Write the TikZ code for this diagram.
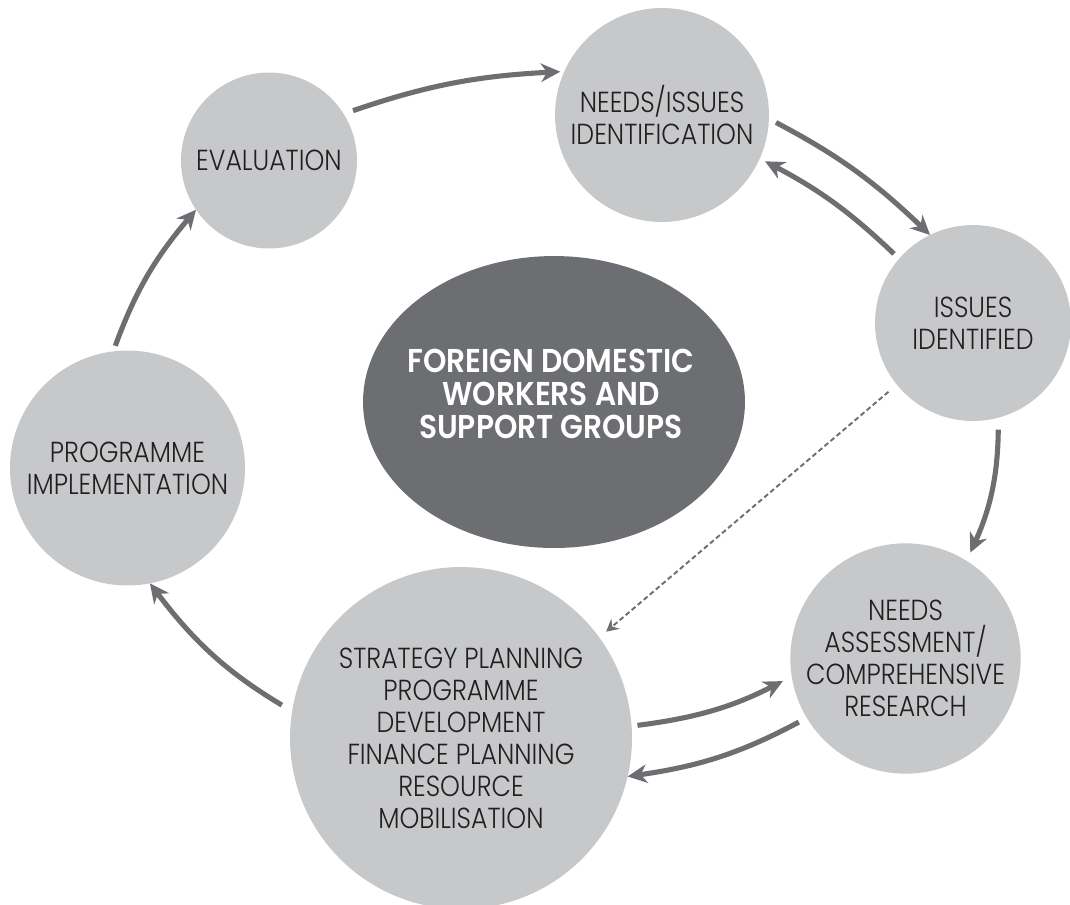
\documentclass[tikz,border=0pt]{standalone}
\usepackage{fontspec}
\newfontfamily\lightf{Poppins Light}[FakeStretch=0.87]
\newfontfamily\boldf{Poppins SemiBold}[FakeStretch=0.9]
\usetikzlibrary{arrows.meta,shapes.geometric}
\definecolor{bubble}{HTML}{C7C8CA}
\definecolor{core}{HTML}{6D6E71}
\definecolor{arrowc}{HTML}{6D6E71}
\definecolor{ink}{HTML}{231F20}
\tikzset{
  bubble/.style={circle,fill=bubble,draw=none,inner sep=0pt,outer sep=0pt,
    align=center,text=ink,font=\lightf\fontsize{16.5}{18.2}\selectfont},
  coreblob/.style={ellipse,fill=core,draw=none,inner sep=0pt,outer sep=0pt,
    minimum width=7.64cm,minimum height=5.84cm},
  titletext/.style={align=center,text=white,inner sep=0pt,
    font=\boldf\fontsize{18.8}{19}\selectfont},
  flow/.style={draw=arrowc,line width=2.9pt,
    -{Stealth[length=11pt,width=10.5pt,inset=3.5pt]}},
  dashflow/.style={draw=arrowc,line width=1.1pt,dash pattern=on 2.8pt off 1.7pt,
    -{Stealth[length=7pt,width=7.5pt,inset=2.5pt]}}
}
\begin{document}
\begin{tikzpicture}[x=0.02cm,y=-0.02cm]
\useasboundingbox (0,0) rectangle (1070,904);
% nodes
\node[bubble,minimum size=3.52cm] (eval) at (269,160.5) {EVALUATION};
\node[bubble,minimum size=4.28cm] (ni) at (662,115) {NEEDS/ISSUES\\IDENTIFICATION};
\node[bubble,minimum size=3.92cm] (ii) at (973,323) {ISSUES\\IDENTIFIED};
\node[bubble,minimum size=4.70cm] (pi) at (127.5,468) {PROGRAMME\\IMPLEMENTATION};
\node[bubble,minimum size=4.48cm] (na) at (905.5,658.5) {NEEDS\\ASSESSMENT/\\COMPREHENSIVE\\RESEARCH};
\node[bubble,minimum size=6.84cm] (sp) at (461,738) {STRATEGY PLANNING\\PROGRAMME\\DEVELOPMENT\\FINANCE PLANNING\\RESOURCE\\MOBILISATION};
\node[coreblob] (core) at (554,402) {};
\node[titletext] (title) at (551,394) {FOREIGN DOMESTIC\\WORKERS AND\\SUPPORT GROUPS};
% connectors
\draw[flow,shorten <=0.2cm,shorten >=0.08cm] (eval.32.3) to[bend left=8] (ni.156.2);
\draw[flow,shorten <=0.16cm] (ni.-2.5) to[bend left=8] (ii.116);
\draw[flow,shorten <=0.14cm,shorten >=0.12cm] (ii.139.6) to[bend right=8] (ni.-24.5);
\draw[flow,shorten <=0.24cm,shorten >=0.18cm] (ii.-75.8) to[bend left=12] (na.58.9);
\draw[flow,shorten <=0.18cm] (na.211.5) to[bend left=10] (sp.-13.1);
\draw[flow,shorten <=0.12cm,shorten >=0.2cm] (sp.4.9) to[bend right=10] (na.189.7);
\draw[dashflow,shorten <=0.22cm,shorten >=0.18cm] (ii.219) -- (sp.36.9);
\draw[flow,shorten <=0.24cm] (sp.171.2) to[bend left=11] (pi.-79.9);
\draw[flow,shorten <=0.12cm] (pi.97.2) to[bend left=10] (eval.214.8);
\end{tikzpicture}
\end{document}
